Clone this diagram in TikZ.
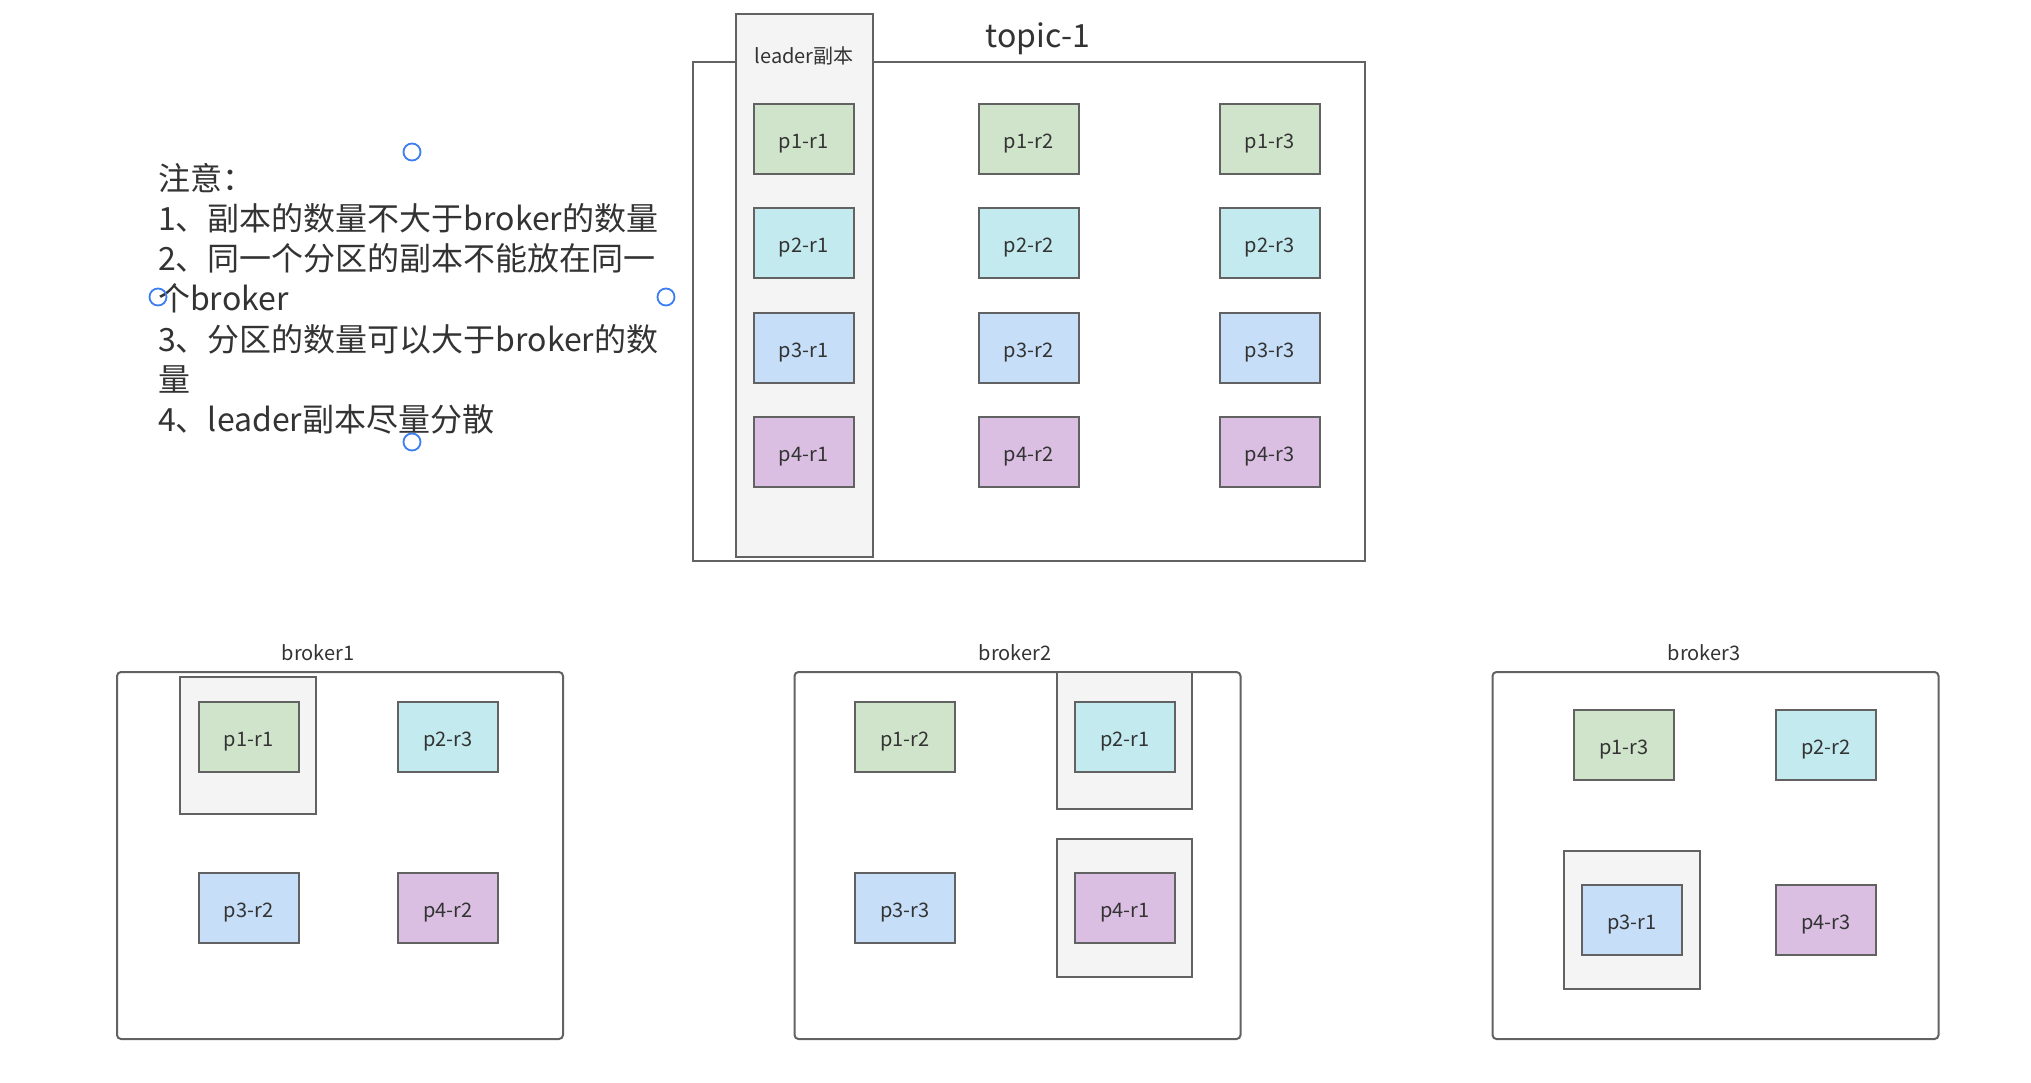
\documentclass[tikz,border=0pt]{standalone}
\usepackage{fontspec}
\setmainfont{Noto Sans CJK SC}
\definecolor{linec}{HTML}{626262}
\definecolor{textc}{HTML}{333333}
\definecolor{cg}{HTML}{D0E4CC}
\definecolor{cc}{HTML}{C2EAEF}
\definecolor{cb}{HTML}{C6DEF7}
\definecolor{cp}{HTML}{DABFE2}
\definecolor{lead}{HTML}{F4F4F4}
\definecolor{handle}{HTML}{3D7EF3}
\tikzset{
  rep/.style={draw=linec, line width=2pt, minimum width=100pt, minimum height=70pt,
    inner sep=0pt, text=textc, font=\fontsize{20}{24}\selectfont,
    text height=19pt, text depth=0pt},
  rg/.style={rep, fill=cg},
  rc/.style={rep, fill=cc},
  rb/.style={rep, fill=cb},
  rp/.style={rep, fill=cp},
  leadbox/.style={draw=linec, line width=2pt, fill=lead, inner sep=0pt},
  topicbox/.style={draw=linec, line width=2pt, fill=white, inner sep=0pt},
  brokerbox/.style={draw=linec, line width=2pt, fill=white, rounded corners=4pt, inner sep=0pt,
    minimum width=446pt, minimum height=367pt},
  lbl/.style={text=textc, inner sep=0pt, font=\fontsize{20}{24}\selectfont},
  hdl/.style={draw=handle, line width=1.8pt, circle, minimum size=17pt, inner sep=0pt},
}
\begin{document}
\begin{tikzpicture}[x=1pt, y=-1pt]
\useasboundingbox (0,0) rectangle (2031,1082);
\fill[white] (0,0) rectangle (2031,1082);

% topic
\node[topicbox, minimum width=672pt, minimum height=499pt] (topic) at (1029,311.5) {};
\node[leadbox, minimum width=137pt, minimum height=543pt] (leadcol) at (804.5,285.5) {};
\node[lbl] (leadlbl) at (804,56) {leader副本};
\node[text=textc, inner sep=0pt, font=\fontsize{32}{36}\selectfont] (topiclbl) at (1038,39) {topic-1};

\node[rg] (t11) at (803.5,139) {p1-r1};
\node[rc] (t21) at (803.5,243) {p2-r1};
\node[rb] (t31) at (803.5,348) {p3-r1};
\node[rp] (t41) at (803.5,452) {p4-r1};
\node[rg] (t12) at (1028.5,139) {p1-r2};
\node[rc] (t22) at (1028.5,243) {p2-r2};
\node[rb] (t32) at (1028.5,348) {p3-r2};
\node[rp] (t42) at (1028.5,452) {p4-r2};
\node[rg] (t13) at (1269.5,139) {p1-r3};
\node[rc] (t23) at (1269.5,243) {p2-r3};
\node[rb] (t33) at (1269.5,348) {p3-r3};
\node[rp] (t43) at (1269.5,452) {p4-r3};

% note
\node[anchor=north west, align=left, inner sep=0pt, text=textc,
  font=\fontsize{32}{40.2}\selectfont] (note) at (158,163)
  {注意：\\1、副本的数量不大于broker的数量\\2、同一个分区的副本不能放在同一\\个broker\\3、分区的数量可以大于broker的数\\量\\4、leader副本尽量分散};
\node[hdl] (h1) at (412,152) {};
\node[hdl] (h2) at (158,297) {};
\node[hdl] (h3) at (666,297) {};
\node[hdl] (h4) at (412,442) {};

% broker1
\node[lbl] (b1lbl) at (318,653) {broker1};
\node[brokerbox] (b1) at (340,855.5) {};
\node[leadbox, minimum width=136pt, minimum height=137pt] (b1l) at (248,745.5) {};
\node[rg] (b1a) at (248.5,737) {p1-r1};
\node[rc] (b1b) at (448,737) {p2-r3};
\node[rb] (b1c) at (248.5,908) {p3-r2};
\node[rp] (b1d) at (448,908) {p4-r2};

% broker2
\node[lbl] (b2lbl) at (1015,653) {broker2};
\node[brokerbox] (b2) at (1017.5,855.5) {};
\node[leadbox, minimum width=135pt, minimum height=137pt] (b2l1) at (1124.5,740.5) {};
\node[leadbox, minimum width=135pt, minimum height=138pt] (b2l2) at (1124.5,908) {};
\node[rg] (b2a) at (905,737) {p1-r2};
\node[rc] (b2b) at (1125,737) {p2-r1};
\node[rb] (b2c) at (905,908) {p3-r3};
\node[rp] (b2d) at (1125,908) {p4-r1};

% broker3
\node[lbl] (b3lbl) at (1704,653) {broker3};
\node[brokerbox] (b3) at (1715.5,855.5) {};
\node[leadbox, minimum width=136pt, minimum height=138pt] (b3l) at (1632,920) {};
\node[rg] (b3a) at (1624,745) {p1-r3};
\node[rc] (b3b) at (1826,745) {p2-r2};
\node[rb] (b3c) at (1632,920) {p3-r1};
\node[rp] (b3d) at (1826,920) {p4-r3};
\end{tikzpicture}
\end{document}
